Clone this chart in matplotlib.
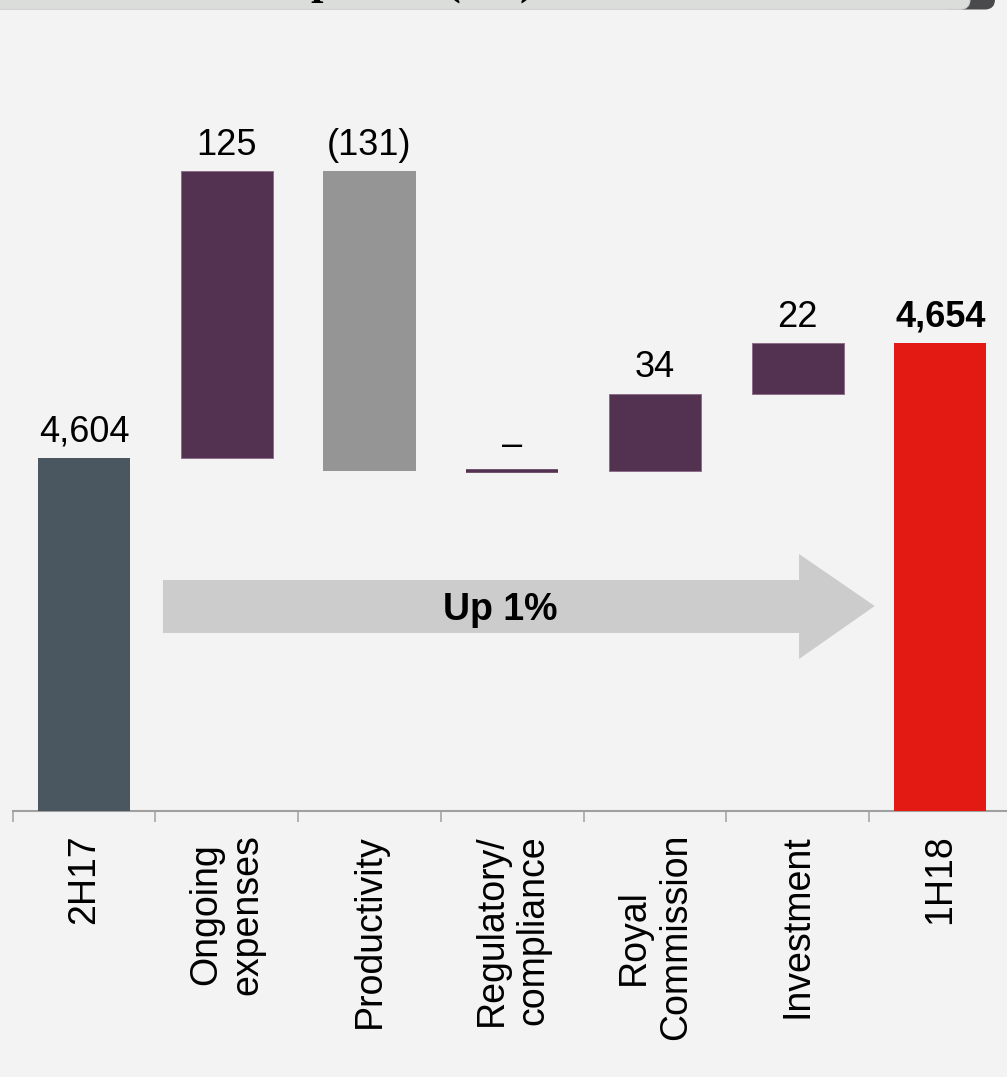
import matplotlib
matplotlib.use('Agg')
import matplotlib.pyplot as plt
from matplotlib.patches import Polygon, FancyBboxPatch
from matplotlib.transforms import IdentityTransform, blended_transform_factory
import numpy as np

# ---------------- data ----------------
categories = ['2H17', 'Ongoing\nexpenses', 'Productivity', 'Regulatory/\ncompliance',
              'Royal\nCommission', 'Investment', '1H18']
start_total = 4604
changes = [125, -131, 0, 34, 22]
end_total = 4654
value_labels = ['4,604', '125', '(131)', '\u2013', '34', '22', '4,654']
title_text = 'Expenses ($m)'
arrow_text = 'Up 1%'

# ---------------- style ----------------
BG = '#f3f3f3'
C_START = '#4a5760'
C_UP = '#533150'
C_DOWN = '#959595'
C_END = '#e21a13'
C_ARROW = '#cccccc'
AXIS_FLOOR = 4449.7        # truncated value axis (broken-axis look)
AXIS_TOP = 4760.2

plt.rcParams['font.family'] = ['Liberation Sans', 'DejaVu Sans']

W, H = 1007, 1077
fig = plt.figure(figsize=(W / 100, H / 100), dpi=100, facecolor=BG)

# title banner (mostly cut off at the top)
dark = FancyBboxPatch((940, H - 9.5), 55, 40, boxstyle='round,pad=0,rounding_size=10',
                      fc='#4a4a4d', ec='none', transform=IdentityTransform(), zorder=1)
light = FancyBboxPatch((-40, H - 9.3), 1010, 40, boxstyle='round,pad=0,rounding_size=10',
                       fc='#dbddda', ec='#d0d2cf', lw=0.8, transform=IdentityTransform(), zorder=2)
fig.add_artist(dark)
fig.add_artist(light)
fig.text(259 / W, 1 + 6.5 / H, title_text, family=['Liberation Serif', 'DejaVu Serif'],
         fontweight='bold', fontsize=32, ha='left', va='baseline', zorder=3)

ax = fig.add_axes([12.7 / W, (H - 811) / H, 999 / W, 711 / H])
ax.set_facecolor(BG)

x = np.arange(len(categories))
levels = start_total + np.cumsum([0] + changes)
bottoms, heights, colors = [], [], []
bottoms.append(AXIS_FLOOR); heights.append(start_total - AXIS_FLOOR); colors.append(C_START)
for i, c in enumerate(changes):
    prev = levels[i]
    bottoms.append(min(prev, prev + c))
    heights.append(abs(c))
    colors.append(C_UP if c >= 0 else C_DOWN)
bottoms.append(AXIS_FLOOR); heights.append(end_total - AXIS_FLOOR); colors.append(C_END)

bw = 0.645
for i in range(len(categories)):
    if heights[i] == 0:
        ax.bar(x[i], 0, bw, bottom=bottoms[i], color=colors[i], edgecolor=colors[i],
               linewidth=2.6, zorder=3)
    else:
        ec = '#8c6d89' if colors[i] == C_UP else 'none'
        ax.bar(x[i], heights[i], bw, bottom=bottoms[i], color=colors[i], edgecolor=ec,
               linewidth=0.7, zorder=3)
    top = bottoms[i] + heights[i]
    bold = (i == len(categories) - 1)
    ax.annotate(value_labels[i], xy=(x[i], top), xytext=(0, 12), textcoords='offset points',
                ha='center', va='baseline', fontsize=26,
                fontweight='bold' if bold else 'normal', color='black')

# big "Up 1%" arrow
tr = blended_transform_factory(ax.transData, ax.transAxes)
arrow_pts = [(0.553, 0.3249), (5.01, 0.3249), (5.01, 0.3615), (5.54, 0.2883),
             (5.01, 0.2138), (5.01, 0.2504), (0.553, 0.2504)]
ax.add_patch(Polygon(arrow_pts, closed=True, fc=C_ARROW, ec='none', transform=tr, zorder=2))
ax.text(2.915, 0.2686, arrow_text, transform=tr, ha='center', va='baseline',
        fontsize=27, fontweight='bold', zorder=4)

ax.set_xlim(-0.5, len(categories) - 0.5)
ax.set_ylim(AXIS_FLOOR, AXIS_TOP)
for s in ['top', 'right', 'left']:
    ax.spines[s].set_visible(False)
ax.spines['bottom'].set_color('#a0a0a0')
ax.spines['bottom'].set_linewidth(1.5)
ax.set_yticks([])
ax.set_xticks(x)
ax.set_xticklabels(categories, rotation=90, fontsize=27, ha='center', va='top',
                   multialignment='center')
ax.tick_params(axis='x', which='major', length=0, pad=16.5)
ax.set_xticks(np.arange(-0.5, len(categories) - 0.5, 1.0), minor=True)
ax.tick_params(axis='x', which='minor', length=8, width=1.1, color='#a0a0a0')

fig.savefig('out.png', dpi=100, facecolor=BG)
